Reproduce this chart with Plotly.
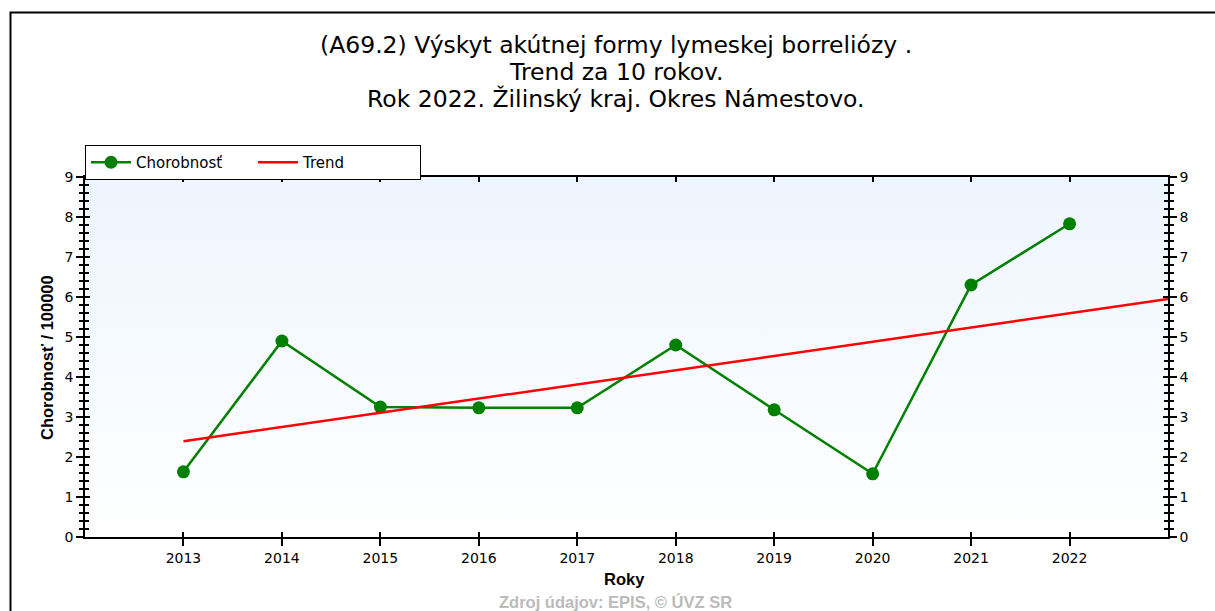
import numpy as np
import plotly.graph_objects as go

# ---- data ----
years = [2013, 2014, 2015, 2016, 2017, 2018, 2019, 2020, 2021, 2022]
chorobnost = [1.63, 4.90, 3.25, 3.23, 3.23, 4.80, 3.18, 1.58, 6.30, 7.83]
x_range = [2012, 2023]
y_range = [0, 9]

title_lines = [
    "(A69.2) Výskyt akútnej formy lymeskej borreliózy .",
    "Trend za 10 rokov.",
    "Rok 2022. Žilinský kraj. Okres Námestovo.",
]
y_title = "Chorobnosť / 100000"
x_title = "Roky"
source_text = "Zdroj údajov: EPIS, © ÚVZ SR"

# linear trend (least squares) from first year to the right edge
slope, intercept = np.polyfit(years, chorobnost, 1)
trend_x = [years[0], x_range[1]]
trend_y = [slope * x + intercept for x in trend_x]

W, H = 1215, 611
L, R, T, B = 85, 1215 - 1168, 177, 611 - 537
pw, ph = W - L - R, H - T - B

def px_x(p):
    return (p - L) / pw

def px_y(p):
    return (H - B - p) / ph

FONT = "DejaVu Sans"

fig = go.Figure()

# background gradient of plot area
fig.add_trace(go.Scatter(
    x=[x_range[0], x_range[1], x_range[1], x_range[0], x_range[0]],
    y=[y_range[0], y_range[0], y_range[1], y_range[1], y_range[0]],
    fill="toself", mode="lines", line=dict(width=0),
    fillgradient=dict(type="vertical", start=y_range[0], stop=y_range[1],
                      colorscale=[[0, "#FFFFFF"], [1, "#EDF5FE"]]),
    hoverinfo="skip", showlegend=False,
))

fig.add_trace(go.Scatter(
    x=years, y=chorobnost, mode="lines+markers", name="Chorobnosť",
    line=dict(color="#008000", width=2.5),
    marker=dict(color="#008000", size=13),
))
fig.add_trace(go.Scatter(
    x=trend_x, y=trend_y, mode="lines", name="Trend",
    line=dict(color="#FF0000", width=2.5),
))

tick_font = dict(family=FONT, size=14, color="#000000")
common_y = dict(range=y_range, dtick=1, tick0=0, showgrid=False, zeroline=False,
                showline=True, linecolor="#000000", linewidth=1.5,
                tickcolor="#000000", tickwidth=1.5, tickfont=tick_font)

fig.update_layout(
    width=W, height=H,
    margin=dict(l=L, r=R, t=T, b=B, autoexpand=False),
    paper_bgcolor="#FFFFFF", plot_bgcolor="rgba(0,0,0,0)",
    showlegend=True,
    legend=dict(orientation="h", x=0, xanchor="left", y=px_y(145), yanchor="top",
                bordercolor="#000000", borderwidth=1, bgcolor="#FFFFFF",
                font=dict(family=FONT, size=15, color="#000000"),
                entrywidth=112, itemwidth=40, tracegroupgap=0),
    xaxis=dict(range=x_range, tickvals=years, showgrid=False, zeroline=False,
               showline=True, linecolor="#000000", linewidth=1.5,
               ticks="outside", ticklen=7, tickwidth=1.5, tickcolor="#000000",
               tickfont=tick_font, mirror=True),
    xaxis2=dict(range=x_range, tickvals=years, overlaying="x", side="bottom",
                showgrid=False, zeroline=False, showline=False,
                ticks="inside", ticklen=5, tickwidth=1.5, tickcolor="#000000",
                showticklabels=False, mirror="allticks"),
    yaxis=dict(**common_y, ticks="outside", ticklen=7, mirror="allticks",
               minor=dict(dtick=0.2, ticks="outside", ticklen=4, tickwidth=1.5,
                          tickcolor="#000000", showgrid=False)),
    yaxis2=dict(**common_y, overlaying="y", side="right", anchor="x",
                ticks="outside", ticklen=7,
                minor=dict(dtick=0.2, ticks="outside", ticklen=4, tickwidth=1.5,
                           tickcolor="#000000", showgrid=False)),
    yaxis3=dict(range=y_range, dtick=1, tick0=0, overlaying="y", side="left",
                showgrid=False, zeroline=False, showline=False,
                ticks="inside", ticklen=5, tickwidth=1.5, tickcolor="#000000",
                showticklabels=False, mirror="allticks",
                minor=dict(dtick=0.2, ticks="inside", ticklen=4, tickwidth=1.5,
                           tickcolor="#000000", showgrid=False)),
)

# dummy invisible traces so overlay axes render
fig.add_trace(go.Scatter(x=[x_range[0]], y=[y_range[0]], xaxis="x2", yaxis="y3",
                         mode="markers", marker=dict(opacity=0), hoverinfo="skip",
                         showlegend=False))
fig.add_trace(go.Scatter(x=[x_range[0]], y=[y_range[0]], xaxis="x", yaxis="y2",
                         mode="markers", marker=dict(opacity=0), hoverinfo="skip",
                         showlegend=False))

# title, one annotation per line
for line, yc in zip(title_lines, [45, 72, 99]):
    fig.add_annotation(text=line, xref="paper", yref="paper",
                       x=px_x(616), y=px_y(yc), xanchor="center", yanchor="middle",
                       showarrow=False,
                       font=dict(family=FONT, size=23.5, color="#000000"))
# axis titles
fig.add_annotation(text="<b>" + y_title + "</b>", xref="paper", yref="paper",
                   x=px_x(47), y=px_y(358), textangle=-90, showarrow=False,
                   xanchor="center", yanchor="middle",
                   font=dict(family="Liberation Sans", size=16.5, color="#000000"))
fig.add_annotation(text="<b>" + x_title + "</b>", xref="paper", yref="paper",
                   x=px_x(624), y=px_y(579), showarrow=False,
                   xanchor="center", yanchor="middle",
                   font=dict(family="Liberation Sans", size=16.5, color="#000000"))
fig.add_annotation(text="<b>" + source_text + "</b>", xref="paper", yref="paper",
                   x=px_x(615), y=px_y(602), showarrow=False,
                   xanchor="center", yanchor="middle",
                   font=dict(family="Liberation Sans", size=16.5, color="#BBBBBB"))

# outer frame
fig.add_shape(type="rect", xref="paper", yref="paper",
              x0=px_x(10.5), x1=px_x(1230), y0=px_y(640), y1=px_y(12.5),
              line=dict(color="#000000", width=2), fillcolor="rgba(0,0,0,0)",
              layer="below")

fig.write_html("out.html",
               config={"displayModeBar": False},
               post_script="document.body.style.margin='0';"
                           "document.body.style.overflow='hidden';")
